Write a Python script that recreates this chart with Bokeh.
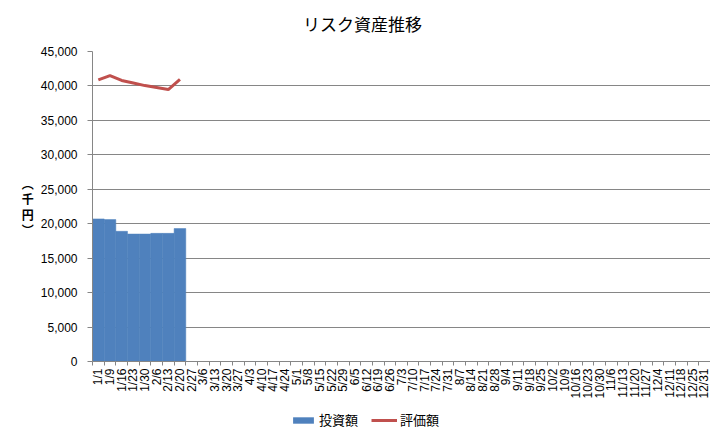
import numpy as np
from bokeh.plotting import figure
from bokeh.layouts import column
from bokeh.models import (Range1d, FixedTicker, NumeralTickFormatter, Legend,
                          LegendItem, Label, ColumnDataSource)
from bokeh.embed import file_html
from bokeh.resources import INLINE

# ---------------- data ----------------
dates = ["1/1", "1/9", "1/16", "1/23", "1/30", "2/6", "2/13", "2/20", "2/27",
         "3/6", "3/13", "3/20", "3/27", "4/3", "4/10", "4/17", "4/24", "5/1",
         "5/8", "5/15", "5/22", "5/29", "6/5", "6/12", "6/19", "6/26", "7/3",
         "7/10", "7/17", "7/24", "7/31", "8/7", "8/14", "8/21", "8/28", "9/4",
         "9/11", "9/18", "9/25", "10/2", "10/9", "10/16", "10/23", "10/30",
         "11/6", "11/13", "11/20", "11/27", "12/4", "12/11", "12/18", "12/25",
         "12/31"]
invest = [20700, 20600, 18900, 18500, 18500, 18600, 18600, 19300]      # 投資額
valuation = [40870, 41500, 40800, 40430, 40050, 39760, 39470, 40960]   # 評価額
y_ticks = [0, 5000, 10000, 15000, 20000, 25000, 30000, 35000, 40000, 45000]
title_text = "リスク資産推移"
y_label = "︵\n千\n円\n︶"
name_invest = "投資額"
name_value = "評価額"

# ---------------- style ----------------
BLUE = "#4F81BD"
RED = "#C0504D"
GRID = "#868686"
CJK = "Noto Sans CJK JP"
LAT = "Liberation Sans"

n = len(dates)
centers = np.arange(n) + 0.5
bounds = np.arange(n + 1).astype(float)
src_bar = ColumnDataSource(dict(x=centers[:len(invest)], top=invest))
src_line = ColumnDataSource(dict(x=centers[:len(valuation)], y=valuation))


def strip(h):
    # helper strip (title / legend) whose data view lies outside the data
    f = figure(width=710, height=h, output_backend="svg", toolbar_location=None,
               x_range=Range1d(0, n),
               y_range=Range1d(y_ticks[-1] * 10, y_ticks[-1] * 11),
               min_border=0, min_border_left=92, min_border_right=0, title=None)
    f.axis.visible = False
    f.grid.grid_line_color = None
    f.outline_line_color = None
    f.background_fill_color = "white"
    f.border_fill_color = "white"
    return f


# ---------------- title strip ----------------
tf = strip(40)
tf.add_layout(Label(x=270, y=17, x_units="screen", y_units="screen",
                    text=title_text, text_align="center", text_baseline="middle",
                    text_font=CJK, text_font_size="17px", text_color="black"))

# ---------------- main chart ----------------
p = figure(frame_width=618, frame_height=310, output_backend="svg",
           toolbar_location=None, title=None,
           x_range=Range1d(0, n), y_range=Range1d(y_ticks[0], y_ticks[-1]),
           min_border_left=92, min_border_right=0, min_border_top=11,
           min_border_bottom=39)
p.outline_line_color = None
p.background_fill_color = "white"
p.border_fill_color = "white"

bars = p.vbar(x="x", top="top", source=src_bar, width=1.0, bottom=0,
              fill_color=BLUE, line_color=BLUE, line_width=0.5)
line = p.line(x="x", y="y", source=src_line, line_color=RED, line_width=3)

# y axis
p.yaxis.ticker = FixedTicker(ticks=y_ticks)
p.yaxis.formatter = NumeralTickFormatter(format="0,0")
p.yaxis.axis_line_color = GRID
p.yaxis.major_tick_line_color = GRID
p.yaxis.major_tick_out = 5
p.yaxis.major_tick_in = 0
p.yaxis.minor_tick_line_color = None
p.yaxis.major_label_standoff = 10
p.yaxis.major_label_text_font = LAT
p.yaxis.major_label_text_font_size = "12px"
p.yaxis.major_label_text_color = "black"
p.yaxis.axis_label = y_label
p.yaxis.axis_label_orientation = "horizontal"
p.yaxis.axis_label_text_font = CJK
p.yaxis.axis_label_text_font_size = "12px"
p.yaxis.axis_label_text_font_style = "bold"
p.yaxis.axis_label_text_color = "black"
p.yaxis.axis_label_text_line_height = 0.9
p.yaxis.axis_label_standoff = 4

# x axis
p.xaxis.ticker = FixedTicker(ticks=list(centers), minor_ticks=list(bounds))
p.xaxis.major_label_overrides = {float(c): d for c, d in zip(centers, dates)}
p.xaxis.major_tick_line_color = None
p.xaxis.major_tick_out = 4
p.xaxis.major_tick_in = 0
p.xaxis.minor_tick_line_color = GRID
p.xaxis.minor_tick_out = 4
p.xaxis.minor_tick_in = 0
p.xaxis.axis_line_color = GRID
p.xaxis.major_label_orientation = np.pi / 2
p.xaxis.major_label_standoff = 3
p.xaxis.major_label_text_font = LAT
p.xaxis.major_label_text_font_size = "12px"
p.xaxis.major_label_text_color = "black"

p.xgrid.grid_line_color = None
p.ygrid.grid_line_color = GRID
p.ygrid.ticker = p.yaxis.ticker

# ---------------- legend strip ----------------
lf = strip(28)
lb = lf.vbar(x="x", top="top", source=src_bar, width=1.0, bottom=0,
             fill_color=BLUE, line_color=None)
ll = lf.line(x="x", y="y", source=src_line, line_color=RED, line_width=3)
legend = Legend(items=[LegendItem(label=name_invest, renderers=[lb]),
                       LegendItem(label=name_value, renderers=[ll])],
                orientation="horizontal", location=(198, 0),
                border_line_color=None, background_fill_alpha=0,
                padding=0, margin=0, spacing=13, label_standoff=3,
                glyph_width=26, glyph_height=8, label_height=12,
                label_text_font=CJK, label_text_font_size="13px",
                label_text_color="black", label_text_baseline="middle")
lf.add_layout(legend, "center")

open("out.html", "w").write(file_html(column(tf, p, lf, spacing=0), INLINE))
